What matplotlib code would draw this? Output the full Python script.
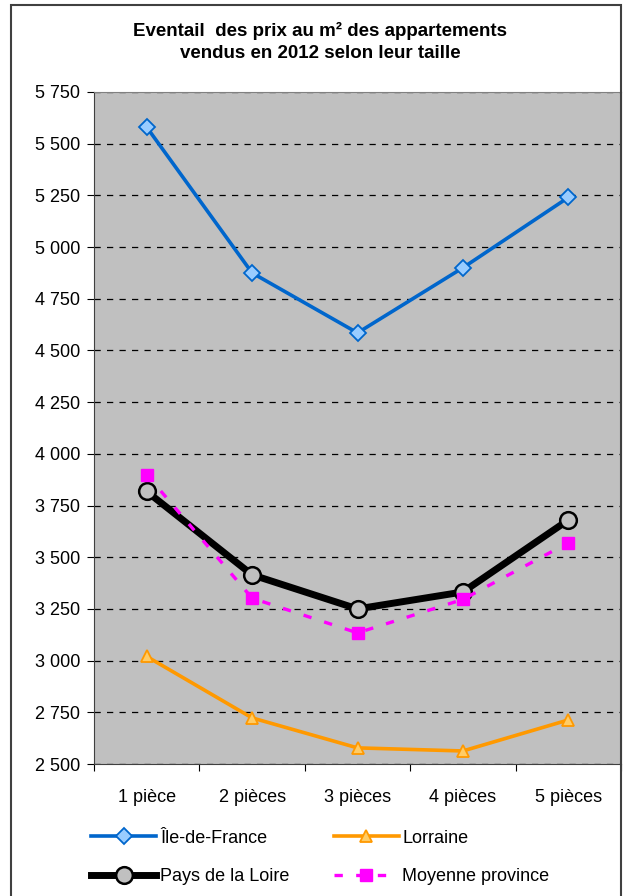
import matplotlib.pyplot as plt
from matplotlib.patches import Rectangle
from matplotlib.ticker import FuncFormatter

plt.rcParams['font.family'] = ['Liberation Sans', 'DejaVu Sans']

categories = ["1 pièce", "2 pièces", "3 pièces", "4 pièces", "5 pièces"]
idf = [5580, 4875, 4585, 4900, 5240]
lorraine = [3020, 2723, 2578, 2563, 2713]
pays_loire = [3818, 3415, 3250, 3332, 3680]
moyenne = [3900, 3302, 3134, 3296, 3570]

fig = plt.figure(figsize=(6.23, 8.96), dpi=100)
ax = fig.add_axes([94 / 623, 132 / 896, 527 / 623, 672 / 896])
ax.set_facecolor("#c0c0c0")

x = range(len(categories))
h_idf, = ax.plot(x, idf, color="#0066cc", lw=2.6, marker="D", ms=8,
                 mfc="#99ccff", mec="#0066cc", mew=1.3, label="Île-de-France", zorder=4)
h_lor, = ax.plot(x, lorraine, color="#ff9900", lw=2.6, marker="^", ms=9,
                 mfc="#ffcc66", mec="#ff9900", mew=1.3, label="Lorraine", zorder=4)
h_pdl, = ax.plot(x, pays_loire, color="black", lw=5, marker="o", ms=12,
                 mfc="#c0c0c0", mec="black", mew=1.8, label="Pays de la Loire", zorder=3)
h_moy, = ax.plot(x, moyenne, color="#ff00ff", lw=2.4, ls=(0, (2.5, 4)), marker="s", ms=9,
                 mfc="#ff00ff", mec="#ff00ff", label="Moyenne province", zorder=5)

ax.set_xlim(-0.5, 4.5)
ax.set_ylim(2500, 5750)
ax.set_yticks(range(2500, 5751, 250))
ax.yaxis.set_major_formatter(FuncFormatter(lambda v, p: f"{int(v):,}".replace(",", " ")))
ax.set_xticks([i - 0.5 for i in range(6)])
ax.set_xticklabels([])
ax.set_xticks(list(x), minor=True)
ax.set_xticklabels(categories, minor=True)
ax.tick_params(axis="x", which="minor", length=0, pad=18, labelsize=13)
ax.tick_params(axis="x", which="major", length=5, direction="out")
ax.tick_params(axis="y", length=5, direction="out", labelsize=13, pad=5)
ax.grid(axis="y", color="black", ls=(0, (5, 5)), lw=0.9)
for s in ["top", "right"]:
    ax.spines[s].set_color("#808080")
ax.spines["left"].set_color("#404040")
ax.spines["bottom"].set_color("#404040")

fig.text(0.514, 0.953, "Eventail  des prix au m² des appartements\nvendus en 2012 selon leur taille",
         ha="center", va="center", fontsize=13.5, fontweight="bold", linespacing=1.35)

fig.legend(handles=[h_idf, h_pdl, h_lor, h_moy], loc="upper left",
           bbox_to_anchor=(0.135, 0.082), ncol=2, frameon=False,
           fontsize=13, handlelength=3.6, handletextpad=0.2, columnspacing=2.45,
           labelspacing=1.2, borderaxespad=0)

fig.patches.append(Rectangle((11 / 623, -0.02), 610 / 623, (891 / 896) + 0.02,
                             transform=fig.transFigure, fill=False,
                             edgecolor="#404040", lw=1.5, zorder=10))

fig.savefig("out.png", dpi=100)
